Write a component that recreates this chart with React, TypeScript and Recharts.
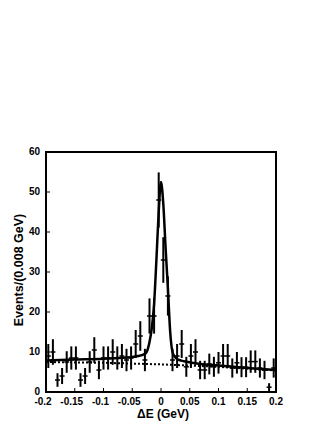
import React from 'react';
import {
  ComposedChart,
  XAxis,
  YAxis,
  Scatter,
  Line,
  ErrorBar,
  ReferenceArea,
} from 'recharts';

// Bin centres (GeV), bin width 0.008 GeV
const binCenters = [
  -0.196, -0.188, -0.18, -0.172, -0.164, -0.156, -0.148, -0.14, -0.132, -0.124,
  -0.116, -0.108, -0.1, -0.092, -0.084, -0.076, -0.068, -0.06, -0.052, -0.044,
  -0.036, -0.028, -0.02, -0.012, -0.004, 0.004, 0.012, 0.02, 0.028, 0.036,
  0.044, 0.052, 0.06, 0.068, 0.076, 0.084, 0.092, 0.1, 0.108, 0.116,
  0.124, 0.132, 0.14, 0.148, 0.156, 0.164, 0.172, 0.18, 0.188, 0.196,
];
const counts = [
  9, 10, 3, 4, 7.5, 8.5, 8.5, 3, 4, 7.5,
  10.5, 5.5, 8.5, 8.5, 10, 8.5, 9, 8, 8.5, 12,
  14, 8, 19, 19, 48, 33, 24, 8, 9, 12,
  6.3, 9, 10, 5.5, 5.5, 7, 6.3, 7.3, 9, 9,
  6, 7.3, 6.2, 6.2, 7.6, 7.6, 6, 5.5, 1.2, 6,
];
const errors = [
  3, 3.2, 1.7, 2, 2.7, 2.9, 2.9, 1.7, 2, 2.7,
  3.2, 2.3, 2.9, 2.9, 3.2, 2.9, 3, 2.8, 2.9, 3.5,
  3.7, 2.8, 4.4, 4.4, 6.9, 5.7, 4.9, 2.8, 3, 3.5,
  2.5, 3, 3.2, 2.3, 2.3, 2.6, 2.5, 2.7, 3, 3,
  2.4, 2.7, 2.5, 2.5, 2.8, 2.8, 2.4, 2.3, 1, 2.4,
];

// Fit curve (signal + background)
const fitX = [
  -0.2, -0.15, -0.1, -0.06, -0.04, -0.03, -0.025, -0.02, -0.016, -0.012,
  -0.008, -0.004, 0, 0.004, 0.008, 0.012, 0.016, 0.02, 0.025, 0.03,
  0.04, 0.06, 0.1, 0.15, 0.2,
];
const fitY = [
  7.9, 8.1, 8.3, 8.6, 9.0, 9.4, 10.0, 12.5, 16, 22,
  33, 45, 52.5, 47, 36, 26, 15, 10, 8.6, 8.1,
  7.7, 7.2, 6.6, 6.0, 5.5,
];

// Background-only curve (dotted)
const bkgX = [-0.2, -0.1, 0, 0.1, 0.2];
const bkgY = [7.5, 7.3, 6.9, 6.3, 5.4];

const xTicks = [-0.2, -0.15, -0.1, -0.05, 0, 0.05, 0.1, 0.15, 0.2];
const xTickLabels = ['-0.2', '-0.15', '-0.1', '-0.05', '0', '0.05', '0.1', '0.15', '0.2'];
const yTicks = [0, 10, 20, 30, 40, 50, 60];
const yTickLabels = ['0', '10', '20', '30', '40', '50', '60'];

const points = binCenters.map((x, i) => ({ x, y: counts[i], err: errors[i] }));
const fitData = fitX.map((x, i) => ({ x, y: fitY[i] }));
const bkgData = bkgX.map((x, i) => ({ x, y: bkgY[i] }));

const FONT = '"Liberation Sans", Arial, Helvetica, sans-serif';

const XTick = (props: any) => {
  const { x, y, index } = props;
  const label = xTickLabels[index] ?? String(props.payload?.value);
  const neg = label.startsWith('-');
  return (
    <g>
      <line x1={x} x2={x} y1={y} y2={y - 4} stroke="#000" strokeWidth={1} />
      <text
        x={x + (neg ? -3 : 0)}
        y={y + 12.5}
        textAnchor="middle"
        fontFamily={FONT}
        fontWeight="bold"
        fontSize={10}
        fill="#000"
      >
        {label}
      </text>
    </g>
  );
};

const YTick = (props: any) => {
  const { x, y, index } = props;
  const label = yTickLabels[index] ?? String(props.payload?.value);
  return (
    <g>
      <line x1={x} x2={x + 4} y1={y} y2={y} stroke="#000" strokeWidth={1} />
      <text
        x={x - 6}
        y={y + 3}
        textAnchor="end"
        fontFamily={FONT}
        fontWeight="bold"
        fontSize={10}
        fill="#000"
      >
        {label}
      </text>
    </g>
  );
};

const YLabel = () => (
  <text
    x={11}
    y={262}
    transform="rotate(-90 11 262)"
    textAnchor="middle"
    dominantBaseline="central"
    fontFamily={FONT}
    fontWeight="bold"
    fontSize={12.5}
    fill="#000"
  >
    Events/(0.008 GeV)
  </text>
);

const XLabel = () => (
  <text
    x={155}
    y={410}
    textAnchor="middle"
    fontFamily={FONT}
    fontWeight="bold"
    fontSize={12}
    fill="#000"
  >
    ΔE (GeV)
  </text>
);

const Dash = (props: any) => {
  const { cx, cy } = props;
  if (cx == null || cy == null) return null;
  return <line x1={cx - 2.5} x2={cx + 2.5} y1={cy} y2={cy} stroke="#000" strokeWidth={1.5} />;
};

export default function App() {
  return (
    <div style={{ width: 316, height: 414 }}>
      <ComposedChart
        width={316}
        height={414}
        margin={{ top: 144, right: 48, left: 0, bottom: 0 }}
      >
        <XAxis
          type="number"
          dataKey="x"
          domain={[-0.2, 0.2]}
          ticks={xTicks}
          allowDataOverflow
          axisLine={false}
          tickLine={false}
          tickSize={0}
          tickMargin={0}
          height={30}
          interval={0}
          tick={<XTick />}
          label={<XLabel />}
        />
        <YAxis
          type="number"
          dataKey="y"
          domain={[0, 60]}
          ticks={yTicks}
          allowDataOverflow
          axisLine={false}
          tickLine={false}
          tickSize={0}
          tickMargin={0}
          width={38}
          interval={0}
          tick={<YTick />}
          label={<YLabel />}
        />
        <Line
          data={bkgData}
          dataKey="y"
          type="linear"
          stroke="#000"
          strokeWidth={2}
          strokeDasharray="2 2"
          dot={false}
          activeDot={false}
          isAnimationActive={false}
        />
        <Line
          data={fitData}
          dataKey="y"
          type="monotone"
          stroke="#000"
          strokeWidth={2.5}
          dot={false}
          activeDot={false}
          isAnimationActive={false}
        />
        <Scatter data={points} dataKey="y" shape={<Dash />} isAnimationActive={false}>
          <ErrorBar dataKey="err" direction="y" width={0} strokeWidth={2} stroke="#000" />
        </Scatter>
        <ReferenceArea
          x1={-0.2}
          x2={0.2}
          y1={0}
          y2={60}
          fill="none"
          stroke="#000"
          strokeWidth={2}
          ifOverflow="visible"
        />
      </ComposedChart>
    </div>
  );
}
